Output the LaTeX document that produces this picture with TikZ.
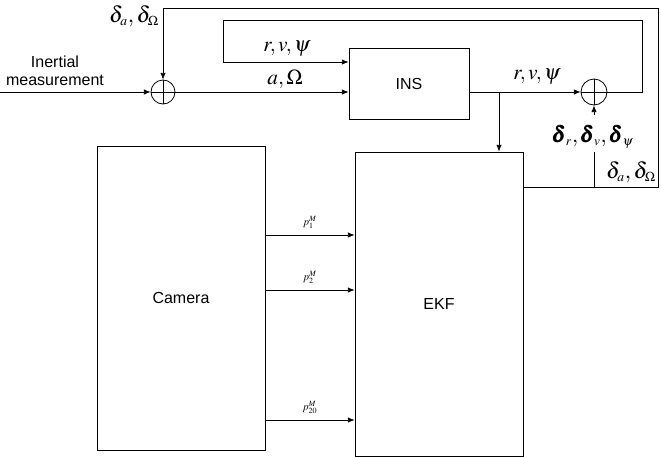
\documentclass[tikz,border=0pt]{standalone}
\usepackage{amsmath}
\usepackage{mathptmx}
\usepackage[no-math]{fontspec}
\setmainfont{Liberation Sans}
\usetikzlibrary{arrows.meta}

\begin{document}
\begin{tikzpicture}[x=0.75pt,y=-0.75pt,line width=0.6pt,
    font=\fontsize{12}{13.5}\selectfont,
    block/.style={draw, inner sep=0pt},
    sumnode/.style={draw, circle, minimum size=18pt, inner sep=0pt,
        path picture={\draw (path picture bounding box.north) -- (path picture bounding box.south)
            (path picture bounding box.west) -- (path picture bounding box.east);}},
    arr/.style={-{Latex[length=5pt,width=4pt]}},
    mlab/.style={font=\fontsize{16}{18}\selectfont},
    dlab/.style={font=\fontsize{17}{19}\selectfont, inner sep=1pt}]
    \useasboundingbox (0,0) rectangle (661,457);

    % Blocks
    \node[block, minimum width=90pt, minimum height=53.25pt] (ins) at (409,83.5) {INS};
    \node[block, minimum width=126pt, minimum height=228pt] (cam) at (181,298) {Camera};
    \node[block, minimum width=126pt, minimum height=228pt] (ekf) at (439,304) {EKF};

    % Summing junctions
    \node[sumnode] (s1) at (163,92) {};
    \node[sumnode, minimum size=19.5pt] (s2) at (594,92) {};

    % Inertial input
    \coordinate (in) at (0,92);
    \draw[arr] (in) -- (s1.west);
    \node[align=center] (inlab) at (55,71) {Inertial\\measurement};
    \draw[arr] (s1.east) -- (s1.east -| ins.west);
    \node[mlab] (aom) at (285,79) {$a,\Omega$};

    % INS output and branch to EKF
    \draw[arr] (ins.east |- s2) -- (s2.west);
    \node[mlab] (rvp2) at (537,77) {$r,v,\psi$};
    \coordinate (br) at (499,92);
    \draw[arr] (br) -- (br |- ekf.north);

    % Inner loop back to INS
    \coordinate (c1) at (642,20);
    \coordinate (c2) at (223,62);
    \draw[arr] (s2.east) -| (c1) -| (c2) -- (c2 -| ins.west);
    \node[mlab] (rvp1) at (287,49) {$r,v,\psi$};

    % Corrections from EKF
    \node[font=\fontsize{16.5}{19}\selectfont, inner sep=1pt] (drv) at (593,137)
        {$\pmb{\delta}_{\scriptscriptstyle r},\pmb{\delta}_{\scriptscriptstyle v},\pmb{\delta}_{\scriptscriptstyle \psi}$};
    \coordinate (tap) at (594,187);
    \coordinate (c3) at (658,8);
    \draw[arr] (tap -| ekf.east) -| (c3) -| (s1.north);
    \draw (tap) -- (tap |- 0,152);
    \coordinate (c5) at (594,115);
    \draw[arr] (c5) -- (s2.south);
    \node[dlab] (dao1) at (134,16) {$\delta_{\scriptscriptstyle a},\delta_{\scriptscriptstyle \Omega}$};
    \node[dlab] (dao2) at (631,172) {$\delta_{\scriptscriptstyle a},\delta_{\scriptscriptstyle \Omega}$};

    % Camera measurements
    \foreach \y/\k in {235/1,290/2,420/20}
        \draw[arr] (cam.east |- 0,\y) -- (ekf.west |- 0,\y)
            node[midway, above=1pt, font=\footnotesize] {$p_{\k}^{M}$};
\end{tikzpicture}
\end{document}
